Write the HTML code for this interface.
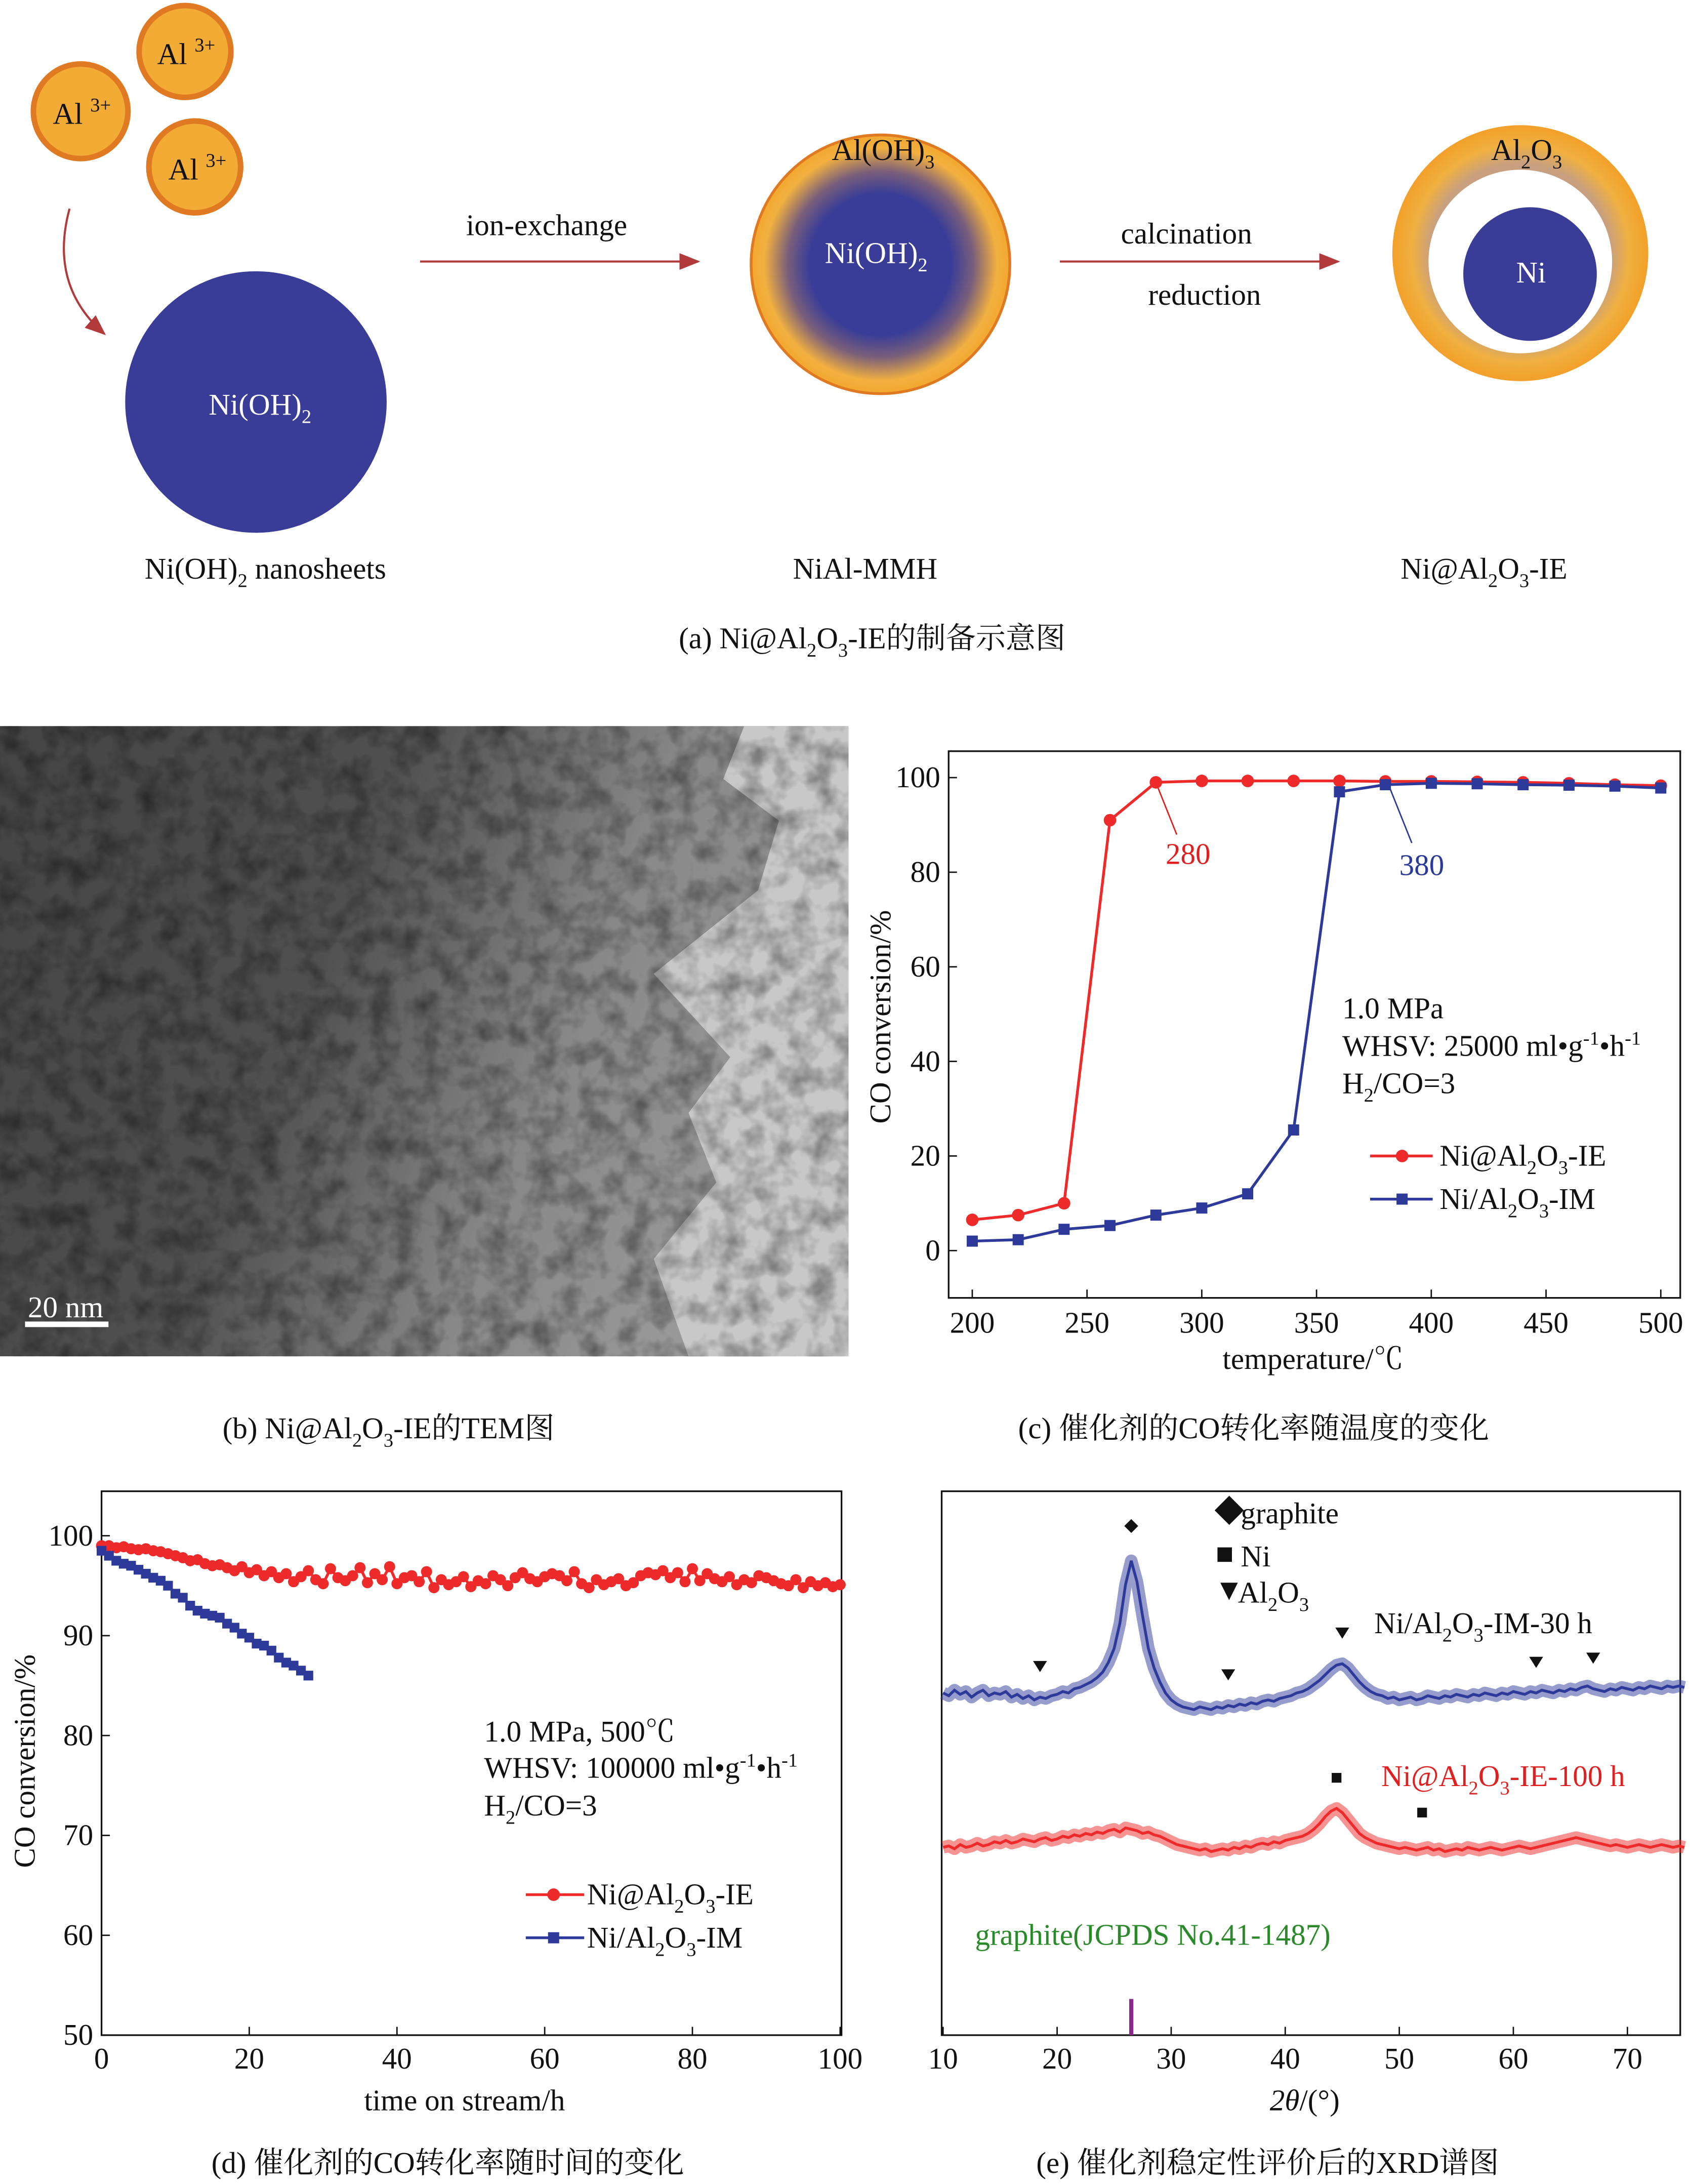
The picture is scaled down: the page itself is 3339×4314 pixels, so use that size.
<!DOCTYPE html>
<html><head><meta charset="utf-8">
<style>
html,body{margin:0;padding:0;background:#fff;}
svg{display:block;}
text{font-family:"Liberation Serif","Noto Serif CJK SC","Noto Sans CJK SC",serif;font-size:21.5px;fill:#111;}
</style></head>
<body>
<svg id="fig" xmlns="http://www.w3.org/2000/svg" width="3339" height="4314" viewBox="0 0 1215 1570" preserveAspectRatio="none">
<defs>
  <radialGradient id="mmh" cx="0.5" cy="0.5" r="0.5">
    <stop offset="0.55" stop-color="#3a3d97"/><stop offset="0.72" stop-color="#7a5f7a"/><stop offset="0.9" stop-color="#f2b040"/><stop offset="1" stop-color="#f2a830"/>
  </radialGradient>
  <radialGradient id="shell" cx="0.5" cy="0.5" r="0.5">
    <stop offset="0.7" stop-color="#c8a080"/><stop offset="0.85" stop-color="#f0b040"/><stop offset="1" stop-color="#f2a02a"/>
  </radialGradient>
  <linearGradient id="tem" x1="0" y1="0" x2="1" y2="0.3">
    <stop offset="0" stop-color="#444"/><stop offset="0.45" stop-color="#505050"/><stop offset="0.75" stop-color="#888"/><stop offset="1" stop-color="#999"/>
  </linearGradient>
  <filter id="noise" x="0" y="0" width="1" height="1">
    <feTurbulence type="fractalNoise" baseFrequency="0.06" numOctaves="3" seed="4"/>
    <feColorMatrix type="matrix" values="0 0 0 0 0  0 0 0 0 0  0 0 0 0 0  0 0 0 1.3 -0.5"/>
  </filter>
  <marker id="ah" markerWidth="10" markerHeight="8" refX="9" refY="4" orient="auto"><path d="M0,0 L10,4 L0,8 Z" fill="#b23a3a"/></marker>
</defs>

<!-- Panel (a) -->
<g>
  <circle cx="58" cy="80" r="34" fill="#f2ab35" stroke="#e07a22" stroke-width="4"/>
  <circle cx="133" cy="37" r="33" fill="#f2ab35" stroke="#e07a22" stroke-width="4"/>
  <circle cx="140" cy="120" r="33" fill="#f2ab35" stroke="#e07a22" stroke-width="4"/>
  <text x="38" y="89">Al <tspan font-size="14" dy="-9">3+</tspan></text>
  <text x="113" y="46">Al <tspan font-size="14" dy="-9">3+</tspan></text>
  <text x="121" y="129">Al <tspan font-size="14" dy="-9">3+</tspan></text>
  <path d="M50,150 Q35,205 75,240" fill="none" stroke="#b23a3a" stroke-width="1.5" marker-end="url(#ah)"/>
  <circle cx="184" cy="289" r="94" fill="#3a3d97"/>
  <text x="150" y="298" style="fill:#fff">Ni(OH)<tspan font-size="14" dy="6">2</tspan></text>
  <line x1="302" y1="188" x2="502" y2="188" stroke="#b23a3a" stroke-width="1.5" marker-end="url(#ah)"/>
  <text x="393" y="169" text-anchor="middle">ion-exchange</text>
  <circle cx="633" cy="190" r="93" fill="url(#mmh)" stroke="#e07a22" stroke-width="2"/>
  <text x="598" y="115">Al(OH)<tspan font-size="14" dy="6">3</tspan></text>
  <text x="593" y="189" style="fill:#fff">Ni(OH)<tspan font-size="14" dy="6">2</tspan></text>
  <line x1="762" y1="188" x2="962" y2="188" stroke="#b23a3a" stroke-width="1.5" marker-end="url(#ah)"/>
  <text x="853" y="175" text-anchor="middle">calcination</text>
  <text x="866" y="219" text-anchor="middle">reduction</text>
  <circle cx="1093" cy="182" r="92" fill="url(#shell)"/>
  <circle cx="1093" cy="188" r="66" fill="#fff"/>
  <circle cx="1100" cy="197" r="48" fill="#3a3d97"/>
  <text x="1072" y="115">Al<tspan font-size="14" dy="6">2</tspan><tspan dy="-6">O</tspan><tspan font-size="14" dy="6">3</tspan></text>
  <text x="1090" y="203" style="fill:#fff">Ni</text>
  <text x="104" y="416">Ni(OH)<tspan font-size="14" dy="6">2</tspan><tspan dy="-6"> nanosheets</tspan></text>
  <text x="622" y="416" text-anchor="middle">NiAl-MMH</text>
  <text x="1007" y="416">Ni@Al<tspan font-size="14" dy="6">2</tspan><tspan dy="-6">O</tspan><tspan font-size="14" dy="6">3</tspan><tspan dy="-6">-IE</tspan></text>
  <text x="488" y="466">(a) Ni@Al<tspan font-size="14" dy="6">2</tspan><tspan dy="-6">O</tspan><tspan font-size="14" dy="6">3</tspan><tspan dy="-6">-IE的制备示意图</tspan></text>
</g>

<!-- Panel (b) -->
<g>
  <rect x="0" y="522" width="610" height="453" fill="url(#tem)"/>
  <polygon points="535,522 610,522 610,975 495,975 470,905 515,850 495,800 525,760 470,700 545,640 560,590 520,560" fill="#c8c8c8"/>
  <rect x="0" y="522" width="610" height="453" filter="url(#noise)" opacity="0.6"/>
  <rect x="18" y="950" width="60" height="4" fill="#fff"/>
  <text x="20" y="947" style="fill:#fff">20 nm</text>
  <text x="160" y="1034">(b) Ni@Al<tspan font-size="14" dy="6">2</tspan><tspan dy="-6">O</tspan><tspan font-size="14" dy="6">3</tspan><tspan dy="-6">-IE的TEM图</tspan></text>
</g>

<!-- Panel (c) -->
<g id="pc">
  <rect x="682" y="540" width="526" height="393" fill="none" stroke="#111" stroke-width="1.2"/>
  <text transform="translate(640,731) rotate(-90)" text-anchor="middle">CO conversion/%</text>
  <text x="944" y="984" text-anchor="middle">temperature/℃</text>
  <text x="838" y="621" style="fill:#e02020">280</text>
  <line x1="832" y1="565" x2="846" y2="600" stroke="#e02020"/>
  <text x="1006" y="629" style="fill:#2a3a9a">380</text>
  <line x1="999" y1="566" x2="1015" y2="606" stroke="#2a3a9a"/>
  <text x="965" y="732">1.0 MPa</text>
  <text x="965" y="759">WHSV: 25000 ml•g<tspan font-size="14" dy="-8">-1</tspan><tspan dy="8">•h</tspan><tspan font-size="14" dy="-8">-1</tspan></text>
  <text x="965" y="786">H<tspan font-size="14" dy="6">2</tspan><tspan dy="-6">/CO=3</tspan></text>
  <line x1="985" y1="831" x2="1030" y2="831" stroke="#ee2a2a" stroke-width="2"/><circle cx="1008" cy="831" r="4.5" fill="#ee2a2a"/>
  <text x="1035" y="838">Ni@Al<tspan font-size="14" dy="6">2</tspan><tspan dy="-6">O</tspan><tspan font-size="14" dy="6">3</tspan><tspan dy="-6">-IE</tspan></text>
  <line x1="985" y1="862" x2="1030" y2="862" stroke="#2d3a9a" stroke-width="2"/><rect x="1004" y="858" width="8" height="8" fill="#2d3a9a"/>
  <text x="1035" y="869">Ni/Al<tspan font-size="14" dy="6">2</tspan><tspan dy="-6">O</tspan><tspan font-size="14" dy="6">3</tspan><tspan dy="-6">-IM</tspan></text>
  <text x="732" y="1034">(c)  催化剂的CO转化率随温度的变化</text>
</g>

<!-- Panel (d) -->
<g id="pd">
  <rect x="73" y="1072" width="532" height="391" fill="none" stroke="#111" stroke-width="1.2"/>
  <text transform="translate(25,1266) rotate(-90)" text-anchor="middle">CO  conversion/%</text>
  <text x="334" y="1517" text-anchor="middle">time on stream/h</text>
  <text x="348" y="1252">1.0 MPa, 500℃</text>
  <text x="348" y="1278">WHSV: 100000 ml•g<tspan font-size="14" dy="-8">-1</tspan><tspan dy="8">•h</tspan><tspan font-size="14" dy="-8">-1</tspan></text>
  <text x="348" y="1305">H<tspan font-size="14" dy="6">2</tspan><tspan dy="-6">/CO=3</tspan></text>
  <line x1="378" y1="1362" x2="420" y2="1362" stroke="#ee2a2a" stroke-width="2"/><circle cx="398" cy="1362" r="4.5" fill="#ee2a2a"/>
  <text x="422" y="1369">Ni@Al<tspan font-size="14" dy="6">2</tspan><tspan dy="-6">O</tspan><tspan font-size="14" dy="6">3</tspan><tspan dy="-6">-IE</tspan></text>
  <line x1="378" y1="1393" x2="420" y2="1393" stroke="#2d3a9a" stroke-width="2"/><rect x="394" y="1389" width="8" height="8" fill="#2d3a9a"/>
  <text x="422" y="1400">Ni/Al<tspan font-size="14" dy="6">2</tspan><tspan dy="-6">O</tspan><tspan font-size="14" dy="6">3</tspan><tspan dy="-6">-IM</tspan></text>
  <text x="152" y="1562">(d) 催化剂的CO转化率随时间的变化</text>
</g>

<!-- Panel (e) -->
<g id="pe">
  <rect x="677" y="1072" width="531" height="391" fill="none" stroke="#111" stroke-width="1.2"/>
  <text x="873" y="1094" font-size="13">◆</text><text x="892" y="1095">graphite</text>
  <text x="874" y="1124" font-size="13">■</text><text x="892" y="1126">Ni</text>
  <text x="873" y="1150" font-size="13">▼</text><text x="890" y="1152">Al<tspan font-size="14" dy="6">2</tspan><tspan dy="-6">O</tspan><tspan font-size="14" dy="6">3</tspan></text>
  <text x="988" y="1174">Ni/Al<tspan font-size="14" dy="6">2</tspan><tspan dy="-6">O</tspan><tspan font-size="14" dy="6">3</tspan><tspan dy="-6">-IM-30 h</tspan></text>
  <text x="993" y="1284" style="fill:#e02020">Ni@Al<tspan font-size="14" dy="6">2</tspan><tspan dy="-6">O</tspan><tspan font-size="14" dy="6">3</tspan><tspan dy="-6">-IE-100 h</tspan></text>
  <text x="701" y="1398" style="fill:#2a8a2a">graphite(JCPDS No.41-1487)</text>
  <text x="938" y="1517" text-anchor="middle"><tspan font-style="italic">2θ</tspan>/(°)</text>
  <text x="745" y="1562">(e) 催化剂稳定性评价后的XRD谱图</text>
</g>
</svg>
<script>
// ---- Chart (c) data ----
const tempC = [200,220,240,260,280,300,320,340,360,380,400,420,440,460,480,500];
const ieConvC = [6.5,7.5,10,91,99,99.3,99.3,99.3,99.3,99.2,99.2,99.1,99,98.8,98.5,98.3];
const imConvC = [2,2.3,4.5,5.3,7.5,9,12,25.5,97,98.5,98.8,98.7,98.5,98.4,98.2,97.8];
const yTicksC = [0,20,40,60,80,100];
const xTicksC = [200,250,300,350,400,450,500];
// ---- Chart (d) data ----
const ieConvD = [99.0,99.0,98.8,98.9,98.7,98.6,98.7,98.5,98.4,98.2,98.0,97.8,97.5,97.6,97.2,97.0,97.1,96.8,96.5,96.9,96.3,96.6,96.0,96.4,95.8,96.2,95.4,95.9,96.5,95.6,95.2,96.7,95.8,95.5,96.0,96.8,95.3,96.2,95.6,96.9,95.2,95.8,96.0,95.4,96.4,94.8,95.6,95.1,95.4,95.9,94.9,95.5,95.2,96.0,95.6,95.0,95.8,96.3,95.7,95.4,95.9,96.2,96.0,95.5,96.4,95.2,94.8,95.6,95.1,95.4,95.7,95.0,95.3,96.0,96.3,96.1,96.5,95.8,96.3,95.4,96.7,95.5,96.2,95.7,95.4,95.9,95.1,95.6,95.3,96.0,95.8,95.5,95.2,95.0,95.6,94.8,95.4,95.0,95.3,94.9,95.1];
const imConvD = [98.5,98,97.5,97.2,97,96.6,96.2,95.8,95.5,95,94.2,93.8,93,92.5,92.2,92,91.8,91.2,90.8,90.2,89.8,89.2,89,88.5,87.8,87.3,87,86.5,86];
const yTicksD = [50,60,70,80,90,100];
const xTicksD = [0,20,40,60,80,100];
// ---- Chart (e) data (2θ from 10 step 0.5) ----
const xrdStart = 10, xrdStep = 0.5;
const xrdIM = [20,18,22,19,21,17,20,22,18,20,19,21,17,19,16,18,15,17,16,18,19,21,20,23,24,26,28,31,35,42,52,70,98,115,100,75,52,38,28,20,15,12,10,9,8,10,9,8,10,9,11,10,12,11,13,12,14,15,14,16,17,18,20,21,23,26,29,33,37,40,41,38,33,28,24,21,19,18,16,17,15,16,17,15,16,18,17,16,18,17,19,18,17,19,18,20,19,18,20,19,21,20,19,21,20,22,21,20,22,21,23,22,24,25,23,22,21,23,22,24,23,22,24,23,25,24,23,25,24,25,24];
const xrdIE = [2,3,1,4,2,3,5,3,4,6,5,7,5,6,8,7,6,8,9,7,8,10,9,11,10,12,11,13,12,14,15,13,16,15,14,12,13,11,10,8,6,4,3,2,1,0,1,-1,0,1,0,2,1,3,2,4,5,4,6,5,7,8,9,10,12,15,19,24,28,30,27,22,17,12,9,7,5,4,3,2,1,2,1,0,1,2,0,1,-1,0,1,0,2,1,0,1,2,1,0,1,2,3,2,1,2,3,4,5,6,7,8,9,8,7,6,5,4,3,4,3,2,3,4,3,2,3,4,3,2,3,2];
const imOffset = 1237, ieOffset = 1330;
const graphiteRef = [26.5];
const alMarks = [18.5,35,45,62,67];
const niMarks = [44.5,52];
const graphiteMark = [26.5];
const xTicksE = [10,20,30,40,50,60,70];

const NS = "http://www.w3.org/2000/svg";
function mk(parent, tag, attrs){const e=document.createElementNS(NS,tag);for(const k in attrs)e.setAttribute(k,attrs[k]);parent.appendChild(e);return e;}

const xC = v => 699 + (v-200)*(1194-699)/300;
const yC = v => 899 - v*3.4;
const xD = v => 73 + v*5.31;
const yD = v => 1463 - (v-50)*7.18;
const xE = v => 678 + (v-10)*8.2;

const pc = document.getElementById('pc');
yTicksC.forEach(t=>{
  mk(pc,'line',{x1:682,x2:688,y1:yC(t),y2:yC(t),stroke:'#111'});
  const tx=mk(pc,'text',{x:676,y:yC(t)+7,'text-anchor':'end'});tx.textContent=t;
  
  
});
xTicksC.forEach(t=>{
  mk(pc,'line',{x1:xC(t),x2:xC(t),y1:933,y2:927,stroke:'#111'});
  const tx=mk(pc,'text',{x:xC(t),y:958,'text-anchor':'middle'});tx.textContent=t;
  
  
});
function series(parent, xs, ys, fx, fy, color, shape, name, r){
  const pl=mk(parent,'polyline',{points:xs.map((x,i)=>fx(x)+','+fy(ys[i])).join(' '),fill:'none',stroke:color,'stroke-width':2});
  
  
  xs.forEach((x,i)=>{
    let m;
    if(shape==='circle') m=mk(parent,'circle',{cx:fx(x),cy:fy(ys[i]),r:r,fill:color});
    else m=mk(parent,'rect',{x:fx(x)-r,y:fy(ys[i])-r,width:2*r,height:2*r,fill:color});
    
    
  });
}
series(pc,tempC,ieConvC,xC,yC,'#ee2a2a','circle','ie-series-c',4.5);
series(pc,tempC,imConvC,xC,yC,'#2d3a9a','rect','im-series-c',4);

const pd = document.getElementById('pd');
yTicksD.forEach(t=>{
  mk(pd,'line',{x1:73,x2:79,y1:yD(t),y2:yD(t),stroke:'#111'});
  const tx=mk(pd,'text',{x:67,y:yD(t)+7,'text-anchor':'end'});tx.textContent=t;
  
  
});
xTicksD.forEach(t=>{
  mk(pd,'line',{x1:xD(t),x2:xD(t),y1:1463,y2:1457,stroke:'#111'});
  const tx=mk(pd,'text',{x:xD(t),y:1487,'text-anchor':'middle'});tx.textContent=t;
  
  
});
series(pd,ieConvD.map((v,i)=>i),ieConvD,xD,yD,'#ee2a2a','circle','ie-series-d',4);
series(pd,imConvD.map((v,i)=>i),imConvD,xD,yD,'#2d3a9a','rect','im-series-d',3.5);

const pe = document.getElementById('pe');
xTicksE.forEach(t=>{
  mk(pe,'line',{x1:xE(t),x2:xE(t),y1:1463,y2:1457,stroke:'#111'});
  const tx=mk(pe,'text',{x:xE(t),y:1487,'text-anchor':'middle'});tx.textContent=t;
  
  
});
function xrd(arr, off, color, name){
  const pts=arr.map((v,i)=>xE(xrdStart+i*xrdStep)+','+(off-v)).join(' ');
  const band=mk(pe,'polyline',{points:pts,fill:'none',stroke:color,'stroke-width':9,'stroke-opacity':0.5,'stroke-linejoin':'round'});
  
  
  const l=mk(pe,'polyline',{points:pts,fill:'none',stroke:color,'stroke-width':2});
  
  
}
xrd(xrdIM,imOffset,'#2d3a9a','xrd-im-30h');
xrd(xrdIE,ieOffset,'#ee2a2a','xrd-ie-100h');
function idx(t){return Math.round((t-xrdStart)/xrdStep);}
alMarks.forEach(t=>{
  const y=imOffset-xrdIM[idx(t)]-22;
  const m=mk(pe,'polygon',{points:(xE(t)-5)+','+(y-4)+' '+(xE(t)+5)+','+(y-4)+' '+xE(t)+','+(y+4),fill:'#111'});
  
  
});
graphiteMark.forEach(t=>{
  const y=imOffset-xrdIM[idx(t)]-25;
  const m=mk(pe,'polygon',{points:(xE(t)-5)+','+y+' '+xE(t)+','+(y-5)+' '+(xE(t)+5)+','+y+' '+xE(t)+','+(y+5),fill:'#111'});
  
  
});
niMarks.forEach((t,k)=>{
  const y=ieOffset-xrdIE[idx(t)]-(k===0?22:26);
  const m=mk(pe,'rect',{x:xE(t)-3.5,y:y-3.5,width:7,height:7,fill:'#111'});
  
  
});
graphiteRef.forEach(t=>{
  const m=mk(pe,'line',{x1:xE(t),x2:xE(t),y1:1437,y2:1463,stroke:'#8a2a8a','stroke-width':3});
  
  
});
</script>
</body></html>
